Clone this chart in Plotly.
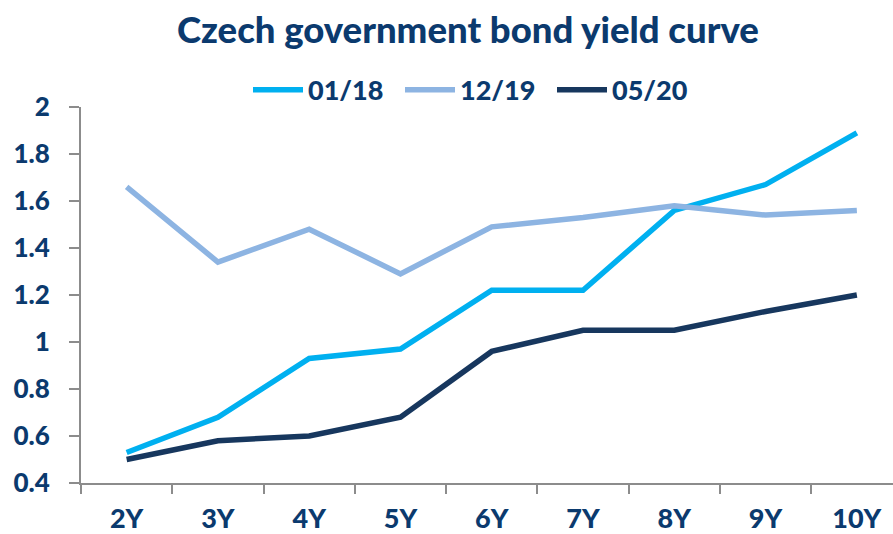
import plotly.graph_objects as go

categories = ["2Y", "3Y", "4Y", "5Y", "6Y", "7Y", "8Y", "9Y", "10Y"]
yield_0118 = [0.53, 0.68, 0.93, 0.97, 1.22, 1.22, 1.56, 1.67, 1.89]
yield_1219 = [1.66, 1.34, 1.48, 1.29, 1.49, 1.53, 1.58, 1.54, 1.56]
yield_0520 = [0.50, 0.58, 0.60, 0.68, 0.96, 1.05, 1.05, 1.13, 1.20]
series_names = ["01/18", "12/19", "05/20"]
y_tick_vals = [0.4, 0.6, 0.8, 1.0, 1.2, 1.4, 1.6, 1.8, 2.0]
y_tick_text = ["0.4", "0.6", "0.8", "1", "1.2", "1.4", "1.6", "1.8", "2"]

colors = ["#00B0F0", "#8DB4E2", "#17375E"]
text_color = "#0B3A6E"
font_family = "Lato"

fig = go.Figure()
for name, vals, col in zip(series_names, [yield_0118, yield_1219, yield_0520], colors):
    fig.add_trace(go.Scatter(
        x=categories, y=vals, name=name, mode="lines",
        line=dict(color=col, width=5.5),
    ))

fig.update_layout(
    width=893, height=534,
    margin=dict(l=81, r=0, t=107, b=51),
    paper_bgcolor="white", plot_bgcolor="white",
    font=dict(family=font_family, color=text_color, size=24, weight=900),
    title=dict(
        text="Czech government bond yield curve",
        x=0.524, xref="container", xanchor="center",
        y=1 - 30 / 534, yref="container", yanchor="middle",
        font=dict(size=36.5, color=text_color, family=font_family, weight=900),
    ),
    legend=dict(
        orientation="h", x=(248 - 81) / 812, xanchor="left", y=1.045, yanchor="middle",
        font=dict(size=27, color=text_color, family=font_family, weight=900),
        bgcolor="rgba(0,0,0,0)", itemwidth=50, entrywidth=87,
    ),
    showlegend=True,
)

fig.update_xaxes(
    type="category", range=[-0.5, 8.396],
    showline=True, linecolor="#8C8C8C", linewidth=2,
    ticks="outside", tickson="boundaries", ticklen=9, tickcolor="#8C8C8C", tickwidth=2,
    showgrid=False, zeroline=False,
    tickfont=dict(size=27, color=text_color, family=font_family, weight=900),
    ticklabelstandoff=11,
)
fig.update_yaxes(
    range=[0.4, 2.0], tickvals=y_tick_vals, ticktext=y_tick_text,
    showline=True, linecolor="#8C8C8C", linewidth=2,
    ticks="outside", ticklen=10, tickcolor="#8C8C8C", tickwidth=2,
    showgrid=False, zeroline=False,
    tickfont=dict(size=26, color=text_color, family=font_family, weight=900),
    ticklabelstandoff=14,
)

fig.write_html("out.html", config={"displayModeBar": False},
               post_script="document.body.style.margin='0';")
